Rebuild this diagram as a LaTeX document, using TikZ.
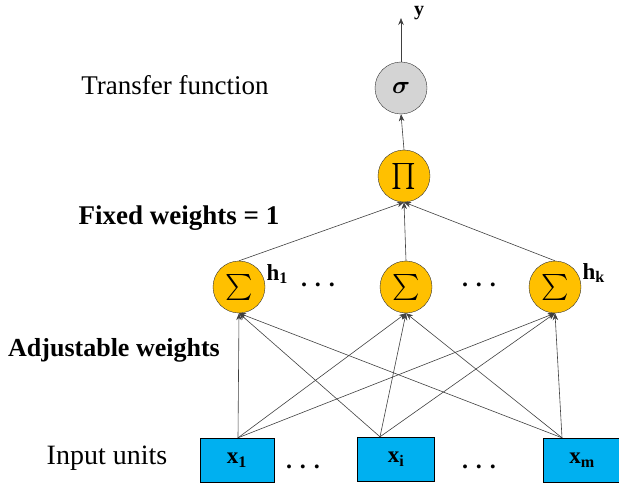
\documentclass[tikz,border=0pt]{standalone}
\usepackage{amsmath,amssymb}
\usepackage{fontspec}
\setmainfont{Liberation Serif}
\usetikzlibrary{positioning, arrows.meta, calc}
\definecolor{unitOrange}{RGB}{255,192,0}
\definecolor{outGray}{RGB}{212,212,212}
\definecolor{inBlue}{RGB}{0,176,240}

\begin{document}
\begin{tikzpicture}[
    x=1pt, y=-1pt,
    >={Stealth[length=7pt, width=5.5pt]},
    sumunit/.style={circle, draw=black!80, fill=unitOrange, minimum size=52pt, inner sep=0pt, font=\fontsize{26}{26}\selectfont},
    outunit/.style={circle, draw=black!80, fill=outGray, minimum size=52pt, inner sep=0pt, font=\fontsize{28}{28}\selectfont},
    inbox/.style={rectangle, draw=black, fill=inBlue, minimum width=76pt, minimum height=44pt, inner sep=0pt, font=\fontsize{23}{24}\selectfont\bfseries},
    wire/.style={->, black!75, line width=0.6pt},
    lbl/.style={font=\fontsize{27}{30}\selectfont},
    dots/.style={font=\fontsize{24}{24}\selectfont\bfseries}
]
    \useasboundingbox (0,0) rectangle (619,484);

    % output
    \node[outunit] (sigma) at (401, 88) {$\boldsymbol{\sigma}$};
    \coordinate (y_out) at (401, 18);
    \node[font=\fontsize{20}{20}\selectfont\bfseries, inner sep=0pt] (y_lbl) at (419, 13) {y};
    \draw[wire] (sigma.north) -- (y_out);

    % product unit
    \node[sumunit] (prod) at (404, 176) {$\prod$};
    \draw[wire] (prod.north) -- (sigma.south);

    % hidden sum units
    \node[sumunit] (sum_1) at (239, 287) {$\sum$};
    \node[sumunit] (sum_i) at (406, 287) {$\sum$};
    \node[sumunit] (sum_k) at (555, 287) {$\sum$};
    \node[font=\fontsize{23}{23}\selectfont\bfseries, anchor=west] (h_1) at (263, 274) {h$_{\mathbf{1}}$};
    \node[font=\fontsize{23}{23}\selectfont\bfseries, anchor=west] (h_k) at (579, 273) {h$_{\mathbf{k}}$};
    \node[dots] (hdots_1) at (318, 285) {.\,\,.\,\,.};
    \node[dots] (hdots_2) at (479, 285) {.\,\,.\,\,.};

    \draw[wire] (sum_1.north) -- (prod.south);
    \draw[wire] (sum_i.north) -- (prod.south);
    \draw[wire] (sum_k.north) -- (prod.south);

    % input units
    \node[inbox, minimum width=74pt] (x_1) at (237, 460) {x$_{\mathbf{1}}$};
    \node[inbox, minimum width=77pt] (x_i) at (396, 459) {x$_{\mathbf{i}}$};
    \node[inbox, minimum width=77pt] (x_m) at (582, 460) {x$_{\mathbf{m}}$};
    \draw[line width=1.6pt] (x_i.north west) -- (x_i.south west);
    \node[dots] (xdots_1) at (303, 467) {.\,\,.\,\,.};
    \node[dots] (xdots_2) at (479, 467) {.\,\,.\,\,.};

    \coordinate (out_1) at ([xshift=1pt]x_1.north);
    \coordinate (out_i) at ([xshift=-16pt]x_i.north);
    \coordinate (out_m) at ([xshift=-20pt]x_m.north);

    \foreach \src in {out_1, out_i, out_m} {
        \foreach \dst in {sum_1, sum_i, sum_k} {
            \draw[wire] (\src) -- (\dst.south);
        }
    }

    % side labels
    \node[lbl] (transfer_lbl) at (175, 85) {Transfer function};
    \node[lbl, font=\fontsize{27}{30}\selectfont\bfseries] (fixed_lbl) at (179, 218) {Fixed weights = 1};
    \node[lbl, font=\fontsize{26}{30}\selectfont\bfseries] (adjust_lbl) at (114, 350) {Adjustable weights};
    \node[lbl, font=\fontsize{28}{30}\selectfont] (input_lbl) at (107, 458) {Input units};
\end{tikzpicture}
\end{document}
